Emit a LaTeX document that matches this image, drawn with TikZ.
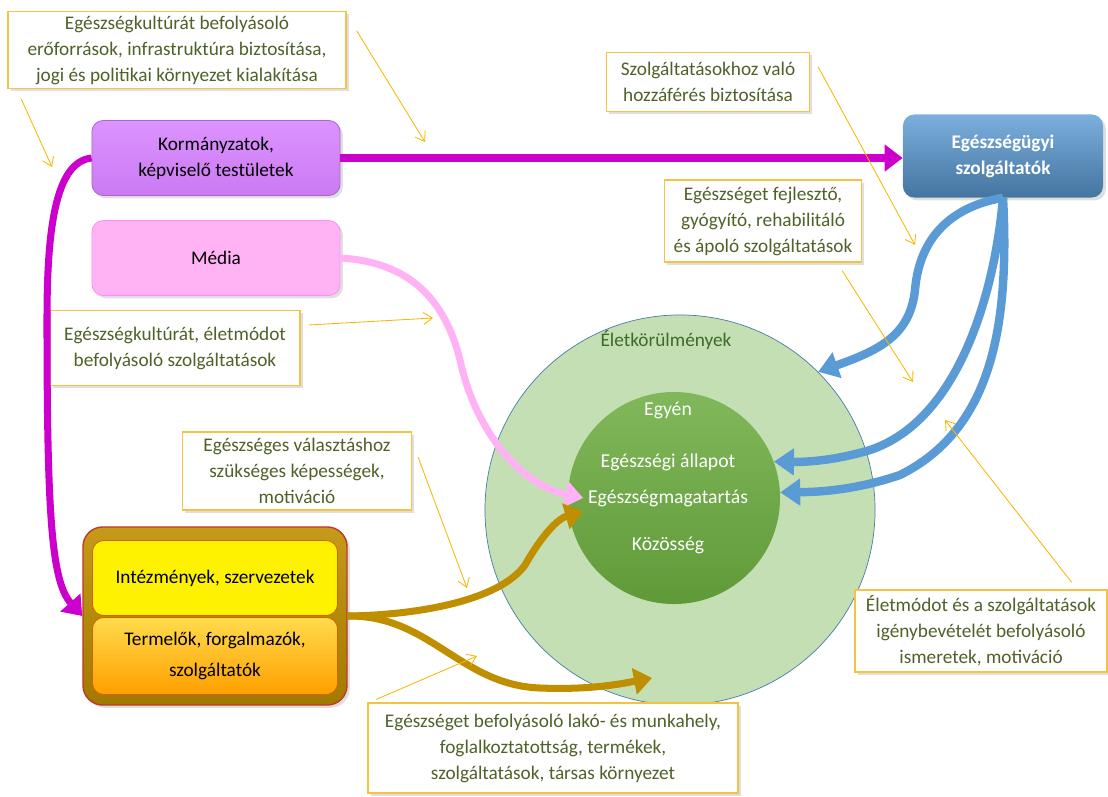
\documentclass[tikz,border=0pt]{standalone}
\usepackage{fontspec}
\setmainfont{Carlito}
\usepackage{xcolor}
\usetikzlibrary{arrows.meta, positioning, shadows, calc}

\definecolor{calltext}{HTML}{4F6228}
\definecolor{callborder}{HTML}{F5C342}
\definecolor{hintcol}{HTML}{F5B800}
\definecolor{govcol}{HTML}{CC00CC}
\definecolor{kormcol}{HTML}{D680FF}
\definecolor{mediacol}{HTML}{FFB3F5}
\definecolor{goldcol}{HTML}{BF8F00}
\definecolor{redcol}{HTML}{C0392B}
\definecolor{bluecol}{HTML}{5B9BD5}
\definecolor{outergreen}{HTML}{C4DFB4}
\definecolor{innergreen}{HTML}{6AAB3E}
\definecolor{titlegreen}{HTML}{3D6B2A}

\tikzset{
  callout/.style={draw=callborder, line width=0.9pt, fill=white, text=calltext,
    align=center, inner sep=3pt,
    drop shadow={shadow xshift=2pt, shadow yshift=-2pt, opacity=.25}},
  actor/.style={rounded corners=8pt, align=center, minimum width=6.2cm,
    minimum height=1.875cm, line width=0.6pt,
    drop shadow={shadow xshift=2pt, shadow yshift=-2pt, opacity=.25}},
  part/.style={rounded corners=8pt, align=center, minimum width=6.125cm,
    line width=0.6pt},
  hint/.style={draw=hintcol, line width=0.6pt, -{Straight Barb[length=2.2mm,width=3mm]}},
  flow/.style={line width=5pt, -{Triangle[length=4.5mm,width=6.5mm]}},
  care/.style={bluecol, line width=6pt, -{Triangle[length=5mm,width=6.5mm]}},
  inside/.style={text=white, font=\fontsize{14}{16}\selectfont}
}

\begin{document}
\begin{tikzpicture}[x=0.025cm, y=-0.025cm, font=\fontsize{13.7}{18.5}\selectfont]
\useasboundingbox (0,0) rectangle (1108,796);

% eletkorulmenyek
\node[circle, draw=bluecol!80!black, line width=0.5pt, fill=outergreen,
  minimum size=9.75cm, inner sep=0pt] (kornyezet) at (680,510) {};
\node[circle, top color=innergreen!85!white, bottom color=innergreen!90!black,
  minimum size=5.3cm, inner sep=0pt] (egyen) at (674,498) {};
\node[text=titlegreen] (kornyezetcim) at (666,340) {Életkörülmények};
\node[inside] (egyencim) at (668,410) {Egyén};
\node[inside] (allapot) at (668,462) {Egészségi állapot};
\node[inside] (magatartas) at (668,498) {Egészségmagatartás};
\node[inside] (kozosseg) at (668,545) {Közösség};

% szereplok
\node[actor, draw=kormcol!80!black, top color=kormcol!85!white, bottom color=kormcol!95!black]
  (korm) at (216,158) {Kormányzatok,\\képviselő testületek};
\node[actor, draw=mediacol!80!magenta, fill=mediacol] (media) at (216,258) {Média};
\node[rounded corners=14pt, draw=redcol, line width=1pt, top color=goldcol!90!white,
  bottom color=goldcol!85!black, minimum width=6.6cm, minimum height=4.45cm,
  drop shadow={shadow xshift=2pt, shadow yshift=-2pt, opacity=.25}]
  (szereplok) at (215,616) {};
\node[part, draw=goldcol!70!red, fill=yellow, minimum height=1.875cm]
  (intezmeny) at (215,578) {Intézmények, szervezetek};
\node[part, draw=goldcol!70!red, top color=orange!40!yellow!70, bottom color=orange!75!yellow,
  minimum height=1.925cm, font=\fontsize{13.7}{22}\selectfont]
  (termelo) at (215,656) {Termelők, forgalmazók,\\szolgáltatók};
\node[rounded corners=8pt, top color=bluecol!80!white, bottom color=bluecol!75!black,
  text=white, font=\bfseries\fontsize{13.7}{18.5}\selectfont, align=center,
  minimum width=5cm, minimum height=2.075cm,
  drop shadow={shadow xshift=2pt, shadow yshift=-2pt, opacity=.25}]
  (ellatok) at (1003,156) {Egészségügyi\\szolgáltatók};

% szovegdobozok
\node[callout, minimum width=8.45cm, minimum height=1.875cm] (eroforras) at (177,50)
  {Egészségkultúrát befolyásoló\\erőforrások, infrastruktúra biztosítása,\\jogi és politikai környezet kialakítása};
\node[callout, minimum width=6.25cm, minimum height=1.875cm] (kultura) at (175,348)
  {Egészségkultúrát, életmódot\\befolyásoló szolgáltatások};
\node[callout, minimum width=5.725cm, minimum height=1.95cm] (kepesseg) at (297,471)
  {Egészséges választáshoz\\szükséges képességek,\\motiváció};
\node[callout, minimum width=9.25cm, minimum height=2.25cm] (lakohely) at (553,748)
  {Egészséget befolyásoló lakó- és munkahely,\\foglalkoztatottság, termékek,\\szolgáltatások, társas környezet};
\node[callout, minimum width=5.075cm, minimum height=1.475cm] (hozzaferes) at (708,82)
  {Szolgáltatásokhoz való\\hozzáférés biztosítása};
\node[callout, minimum width=4.925cm, minimum height=2.05cm] (fejlesztes) at (763,221)
  {Egészséget fejlesztő,\\gyógyító, rehabilitáló\\és ápoló szolgáltatások};
\node[callout, minimum width=6.3cm, minimum height=2.05cm] (ismeret) at (981,631)
  {Életmódot és a szolgáltatások\\igénybevételét befolyásoló\\ismeretek, motiváció};

% hatasok
\draw[flow, govcol] (korm.east) -- (korm.east -| ellatok.west);
\draw[flow, govcol] (korm.west) .. controls (55,162) and (47,230) .. (47,320)
  .. controls (47,520) and (52,582) .. (szereplok.west);
\draw[flow, mediacol] (media.east) .. controls (410,262) and (445,300) .. (460,360)
  .. controls (475,430) and (520,485) .. (magatartas.west);
\coordinate (lakocel) at (652,678);
\draw[flow, goldcol] (szereplok.east) .. controls (420,615) and (500,600) .. (525,565)
  .. controls (545,530) and (560,518) .. (magatartas.south west);
\draw[flow, goldcol] (szereplok.east) .. controls (430,615) and (460,685) .. (540,688)
  .. controls (590,690) and (620,684) .. (lakocel);
\draw[care] (ellatok.south) .. controls (960,205) and (920,230) .. (915,290)
  .. controls (910,335) and (880,350) .. (kornyezet.45);
\draw[care] (ellatok.south) .. controls (995,290) and (960,420) .. (870,450)
  .. controls (830,462) and (800,462) .. (egyen.20);
\draw[care] (ellatok.south) .. controls (1010,330) and (990,430) .. (900,475)
  .. controls (850,492) and (810,492) .. (egyen.3);

% magyarazo nyilak
\coordinate (hintkorm) at (52,167);
\coordinate (hintfelso) at (425,142);
\coordinate (hintjobb) at (915,245);
\coordinate (hintkek) at (913,382);
\coordinate (hintmedia) at (433,318);
\coordinate (hintarany) at (467,588);
\coordinate (hintalso) at (477,656);
\coordinate (hintismeret) at (945,420);
\draw[hint] ($(eroforras.south west)+(14,10)$) -- (hintkorm);
\draw[hint] ($(eroforras.north east)+(10,20)$) -- (hintfelso);
\draw[hint] ($(hozzaferes.north east)+(8,15)$) -- (hintjobb);
\draw[hint] ($(fejlesztes.south east)+(-20,8)$) -- (hintkek);
\draw[hint] ($(kultura.east)+(8,-23)$) -- (hintmedia);
\draw[hint] ($(kepesseg.north east)+(6,26)$) -- (hintarany);
\draw[hint] ($(lakohely.north west)+(9,-3)$) -- (hintalso);
\draw[hint] ($(ismeret.north east)+(-36,-7)$) -- (hintismeret);
\end{tikzpicture}
\end{document}
